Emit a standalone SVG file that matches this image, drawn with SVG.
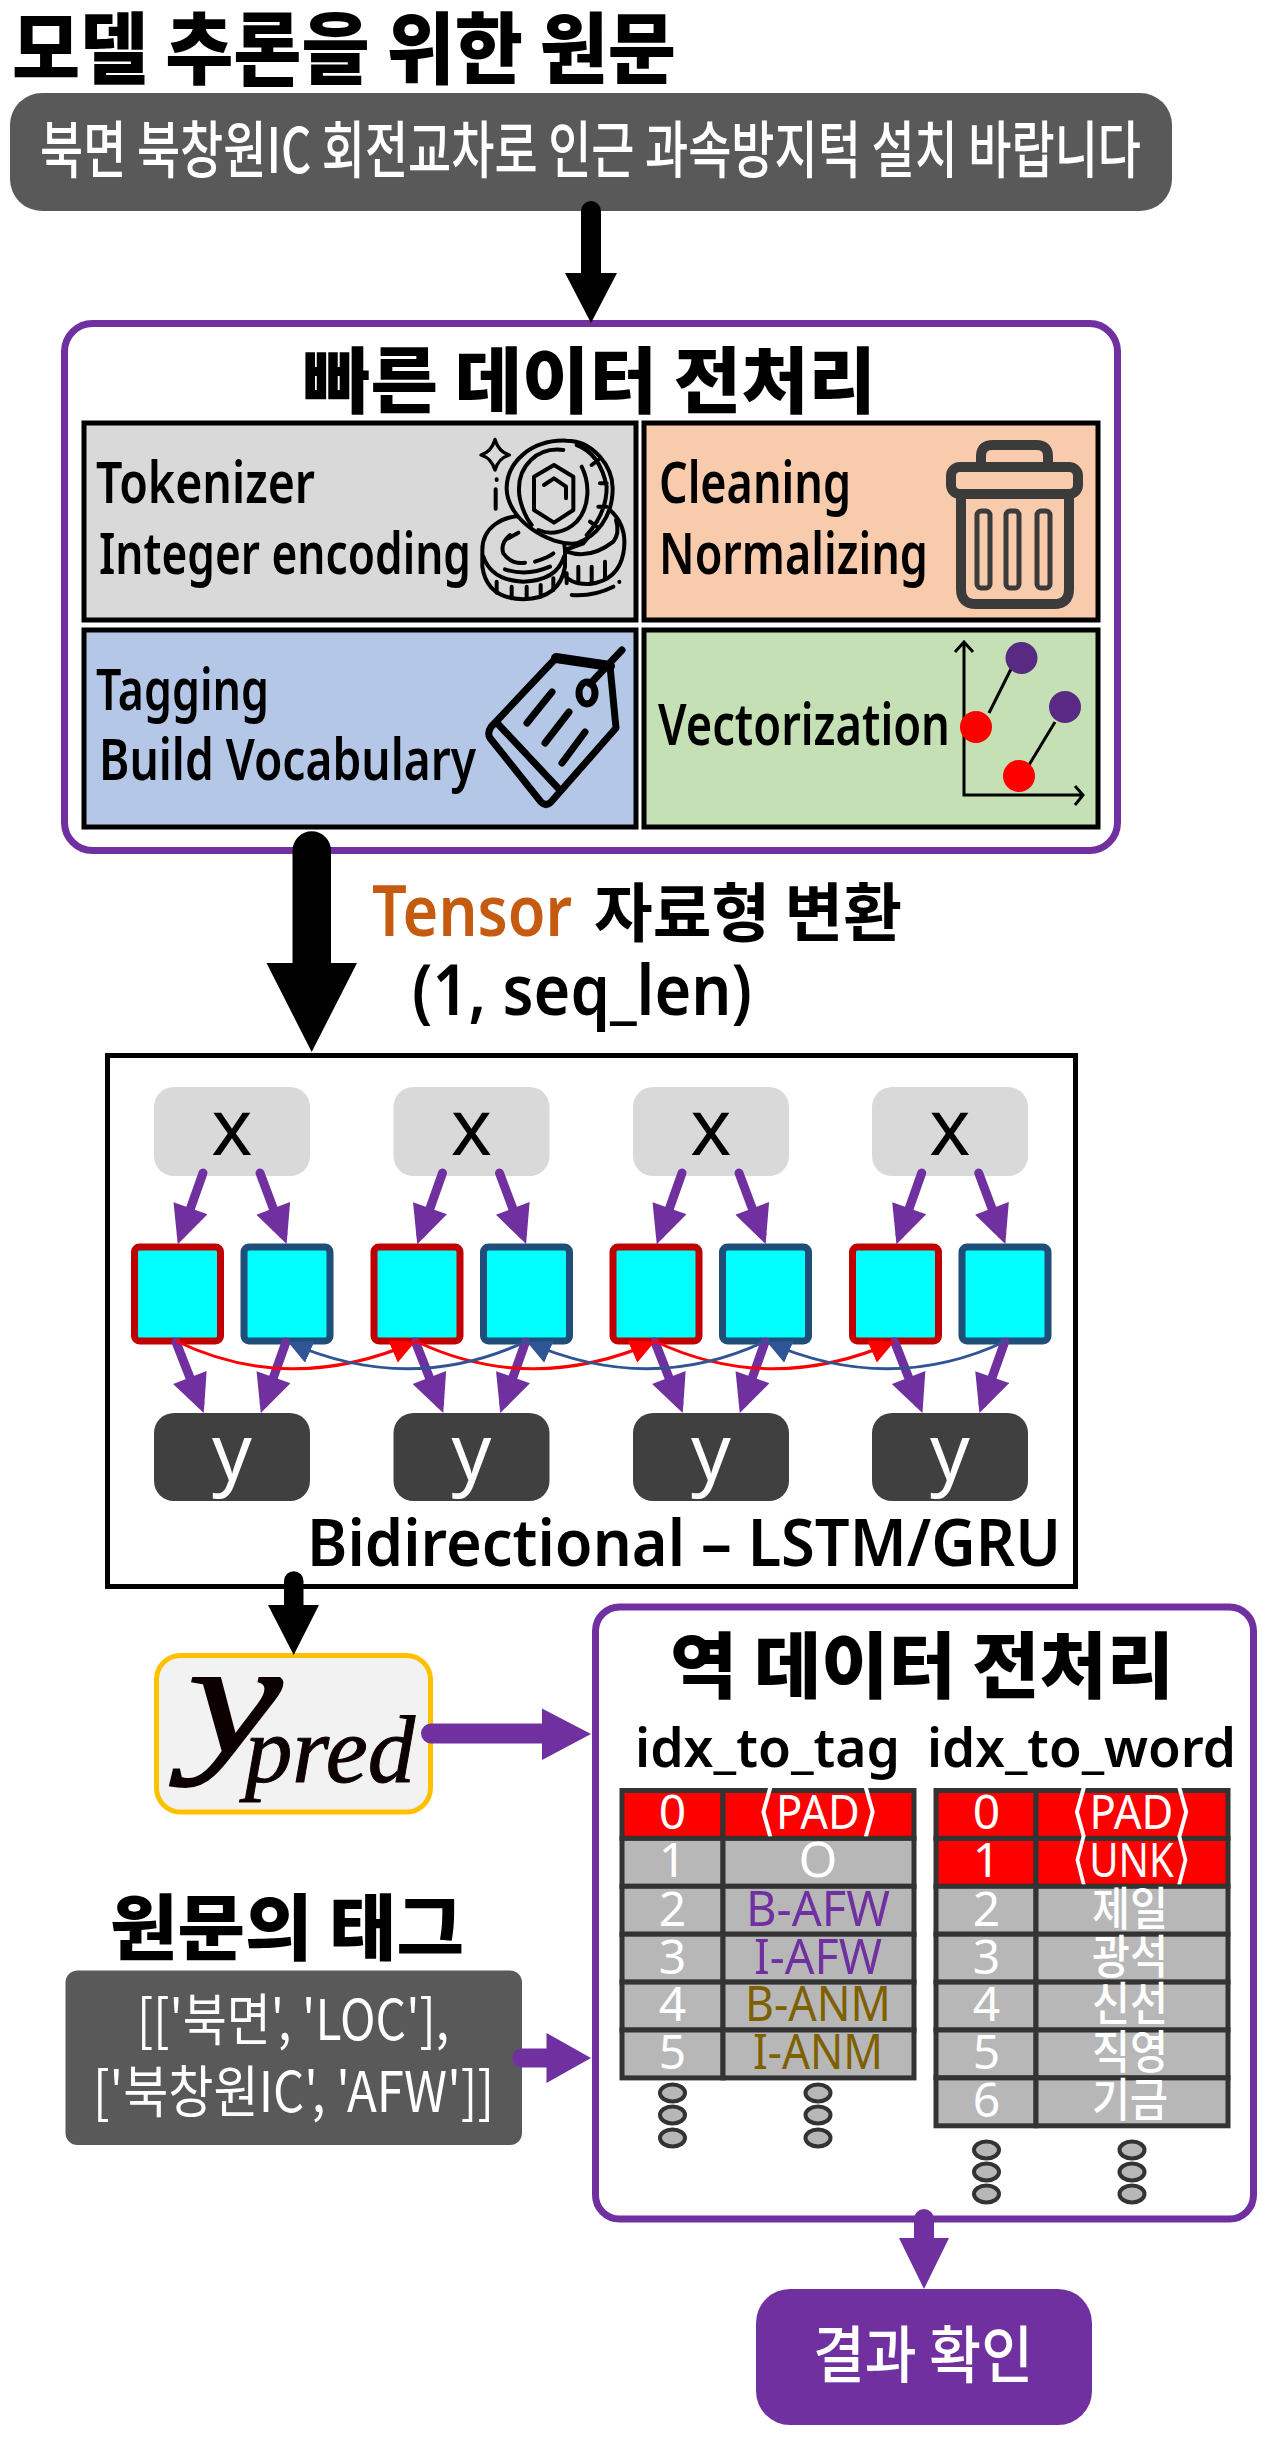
<svg xmlns="http://www.w3.org/2000/svg" width="1269" height="2442" viewBox="0 0 1269 2442">
<style>
text{font-family:"Noto Sans CJK KR","Noto Sans",sans-serif}
.lat{font-family:"Noto Sans","DejaVu Sans","Noto Sans CJK KR",sans-serif;font-weight:600}
.lbl{font-family:"Noto Sans",sans-serif;font-weight:400;font-size:78px;text-anchor:middle}
.h{font-weight:900;fill:#000}
.w{fill:#fff;font-weight:500}
.purple{fill:none;stroke:#7030A0;stroke-width:7}
.grid{stroke:#000;stroke-width:5}
.xb{fill:#D9D9D9}
.yb{fill:#404040}
.rc{fill:#00FFFF;stroke:#C00000;stroke-width:7}
.bc{fill:#00FFFF;stroke:#1F4E79;stroke-width:7}
.tc{fill:#B7B7B7;stroke:#333;stroke-width:5}
.tr{fill:#FF0000;stroke:#333;stroke-width:5}
.dot{fill:#B7B7B7;stroke:#333;stroke-width:4}
.td{font-size:48px;font-family:"Noto Sans","DejaVu Sans","Noto Sans CJK KR",sans-serif;text-anchor:middle;fill:#fff}
.tk{font-size:46px;text-anchor:middle;fill:#fff;font-weight:500}
.br{font-size:54px}
.ar{fill:none;stroke:#7030A0;stroke-width:9;stroke-linecap:round;marker-end:url(#ph)}
.ic{fill:none;stroke:#000;stroke-width:12;stroke-linecap:round;stroke-linejoin:round}
</style>
<defs>
<marker id="ph" markerUnits="userSpaceOnUse" markerWidth="40" markerHeight="36" viewBox="0 0 36 34" refX="26" refY="17" orient="auto"><polygon points="0,0 36,17 0,34" fill="#7030A0"/></marker>
<marker id="rh" markerUnits="userSpaceOnUse" markerWidth="24" markerHeight="24" viewBox="0 0 22 22" refX="22" refY="11" orient="auto"><polygon points="0,0 22,11 0,22" fill="#FF0000"/></marker>
<marker id="bh" markerUnits="userSpaceOnUse" markerWidth="24" markerHeight="24" viewBox="0 0 22 22" refX="22" refY="11" orient="auto"><polygon points="0,0 22,11 0,22" fill="#2F5597"/></marker>
<g id="fan">
<line class="ar" x1="203" y1="1173" x2="181.3" y2="1234.2"/>
<line class="ar" x1="260" y1="1173" x2="282.9" y2="1234.2"/>
<line class="ar" x1="176" y1="1342" x2="199.9" y2="1403.2"/>
<line class="ar" x1="286" y1="1342" x2="264.3" y2="1403.1"/>
</g>
</defs>
<rect width="1269" height="2442" fill="#fff"/>

<text id="title" class="h" x="12" y="78" font-size="78" textLength="664" lengthAdjust="spacingAndGlyphs">모델 추론을 위한 원문</text>

<g id="source">
<rect x="10" y="93" width="1162" height="118" rx="32" fill="#595959"/>
<text class="w" x="40" y="173" font-size="62" textLength="1101" lengthAdjust="spacingAndGlyphs">북면 북창원IC 회전교차로 인근 과속방지턱 설치 바랍니다</text>
</g>

<g id="preprocess">
<rect class="purple" x="64.5" y="323.5" width="1053" height="527" rx="28" fill="#fff"/>
<text class="h" x="303" y="407" font-size="72" textLength="573" lengthAdjust="spacingAndGlyphs">빠른 데이터 전처리</text>
</g>

<g id="tokenizer">
<rect class="grid" x="84" y="423" width="552" height="197" fill="#D9D9D9"/>
<text class="lat" x="96" y="503" font-size="58" textLength="219" lengthAdjust="spacingAndGlyphs">Tokenizer</text>
<text class="lat" x="99" y="574" font-size="58" textLength="372" lengthAdjust="spacingAndGlyphs">Integer encoding</text>
<g transform="translate(450,410) scale(.33333)">
<path class="ic" style="fill:#D9D9D9" d="M480,300Q535,350 520,430Q505,510 420,522Q360,525 340,490L345,420L400,400Z"/>
<path class="ic" d="M350,425Q420,450 490,395Q510,370 498,330M350,490V520M385,470V520M425,470V518M465,455V505"/>
<path class="ic" style="fill:#D9D9D9" d="M97,420C97,350 160,318 215,318C290,318 345,370 345,420V470Q330,565 220,568Q110,565 97,470Z"/>
<path class="ic" d="M100,440Q125,512 220,515Q320,512 342,440M140,515V548M185,530V565M230,530V565M272,525V560M310,505V540M180,375Q150,400 160,430Q185,465 225,458M255,455Q300,440 310,430M165,478Q230,500 300,470M175,385L205,368"/>
<path class="ic" style="fill:#D9D9D9" d="M350,92C430,92 488,170 488,235C488,320 440,380 380,400C300,410 170,330 170,235C170,160 240,88 350,92Z"/>
<path class="ic" d="M380,105Q450,130 470,230Q470,310 410,375M445,150L425,165M470,220H450M470,290H445M440,350L420,335"/>
<path class="ic" d="M340,120C260,110 205,170 207,240C207,275 225,320 245,345M395,170C420,220 420,290 380,335C345,370 300,375 265,360"/>
<path class="ic" d="M312,165L370,200V300L312,338L252,300V200ZM282,225L312,205L348,230V265"/>
<path d="M135,88Q145,125 178,135Q145,145 135,180Q125,145 93,135Q125,125 135,88Z" fill="none" stroke="#000" stroke-width="10" stroke-linejoin="round"/>
<path class="ic" d="M140,208V210M137,238V296M365,555Q430,560 490,530M508,515V516"/>
</g>
</g>

<g id="cleaning">
<rect class="grid" x="644" y="423" width="454" height="197" fill="#F8CBAD"/>
<text class="lat" x="659" y="503" font-size="58" textLength="192" lengthAdjust="spacingAndGlyphs">Cleaning</text>
<text class="lat" x="659" y="574" font-size="58" textLength="269" lengthAdjust="spacingAndGlyphs">Normalizing</text>
<g fill="none" stroke="#3B3B3B" stroke-linejoin="round">
<path d="M981,464V456Q981,445 993,445H1036Q1048,445 1048,456V464" stroke-width="10"/>
<rect x="951" y="467" width="127" height="27" rx="9" stroke-width="10"/>
<path d="M961,497V589Q961,604 976,604H1054Q1069,604 1069,589V497" stroke-width="10"/>
<rect x="977" y="511" width="13" height="77" rx="4" stroke-width="5"/>
<rect x="1006" y="511" width="13" height="77" rx="4" stroke-width="5"/>
<rect x="1037" y="511" width="13" height="77" rx="4" stroke-width="5"/>
</g>
</g>

<g id="tagging">
<rect class="grid" x="84" y="630" width="552" height="197" fill="#B4C7E7"/>
<text class="lat" x="96" y="710" font-size="58" textLength="173" lengthAdjust="spacingAndGlyphs">Tagging</text>
<text class="lat" x="99" y="780" font-size="58" textLength="377" lengthAdjust="spacingAndGlyphs">Build Vocabulary</text>
<g fill="none" stroke="#000" stroke-width="7" stroke-linecap="round" stroke-linejoin="round">
<path d="M556,658L610,666L616,728L551,802Q546,807 541,802L490,738Q487,733 491,727Z"/>
<path d="M556,658L610,666" stroke-width="10"/>
<path d="M498,724L558,788"/>
<ellipse cx="587" cy="693" rx="8" ry="11"/>
<path d="M590,684L622,650"/>
<path d="M552,692L527,723M569,712L545,743M585,732L562,763"/>
</g>
</g>

<g id="vectorization">
<rect class="grid" x="644" y="630" width="454" height="197" fill="#C5E0B4"/>
<text class="lat" x="658" y="745" font-size="58" textLength="292" lengthAdjust="spacingAndGlyphs">Vectorization</text>
<g fill="none" stroke="#000" stroke-width="3">
<path d="M964,642V795H1083M955,652L964,642L973,652M1075,786L1083,795L1075,805"/>
<path d="M989,713L1012,667M1029,765L1055,722"/>
</g>
<circle cx="1021.5" cy="658" r="16" fill="#582A83"/>
<circle cx="1065" cy="707" r="16" fill="#582A83"/>
<circle cx="976" cy="727" r="16" fill="#FF0000"/>
<circle cx="1019" cy="776" r="16" fill="#FF0000"/>
</g>

<text id="tensor-label" class="lat" x="372" y="936" font-size="70" fill="#C55A11" textLength="200" lengthAdjust="spacingAndGlyphs">Tensor</text>
<text id="tensor-label-2" class="h" x="594" y="936" font-size="64" textLength="308" lengthAdjust="spacingAndGlyphs" style="font-weight:700">자료형 변환</text>
<text id="tensor-shape" class="lat" x="412" y="1015" font-size="70" textLength="340" lengthAdjust="spacingAndGlyphs">(1, seq_len)</text>

<g id="lstm">
<rect x="107.5" y="1055.5" width="968" height="531" fill="#fff" stroke="#000" stroke-width="5"/>
<text class="lat" x="307" y="1566" font-size="65" textLength="754" lengthAdjust="spacingAndGlyphs">Bidirectional – LSTM/GRU</text>
</g>
<g id="x1"><rect class="xb" x="154" y="1087" width="156" height="89" rx="20"/><text class="lbl" x="232" y="1155">x</text></g>
<g id="x2"><rect class="xb" x="393.5" y="1087" width="156" height="89" rx="20"/><text class="lbl" x="471.5" y="1155">x</text></g>
<g id="x3"><rect class="xb" x="633" y="1087" width="156" height="89" rx="20"/><text class="lbl" x="711" y="1155">x</text></g>
<g id="x4"><rect class="xb" x="872" y="1087" width="156" height="89" rx="20"/><text class="lbl" x="950" y="1155">x</text></g>
<g id="cell1f"><rect class="rc" x="134.5" y="1247" width="86" height="94" rx="5"/></g>
<g id="cell1b"><rect class="bc" x="244" y="1247" width="86" height="94" rx="5"/></g>
<g id="cell2f"><rect class="rc" x="374" y="1247" width="86" height="94" rx="5"/></g>
<g id="cell2b"><rect class="bc" x="483.5" y="1247" width="86" height="94" rx="5"/></g>
<g id="cell3f"><rect class="rc" x="613" y="1247" width="86" height="94" rx="5"/></g>
<g id="cell3b"><rect class="bc" x="722.5" y="1247" width="86" height="94" rx="5"/></g>
<g id="cell4f"><rect class="rc" x="852.5" y="1247" width="86" height="94" rx="5"/></g>
<g id="cell4b"><rect class="bc" x="962" y="1247" width="86" height="94" rx="5"/></g>
<g id="y1"><rect class="yb" x="154" y="1413" width="156" height="88" rx="20"/><text class="lbl" fill="#fff" x="232" y="1480">y</text></g>
<g id="y2"><rect class="yb" x="393.5" y="1413" width="156" height="88" rx="20"/><text class="lbl" fill="#fff" x="471.5" y="1480">y</text></g>
<g id="y3"><rect class="yb" x="633" y="1413" width="156" height="88" rx="20"/><text class="lbl" fill="#fff" x="711" y="1480">y</text></g>
<g id="y4"><rect class="yb" x="872" y="1413" width="156" height="88" rx="20"/><text class="lbl" fill="#fff" x="950" y="1480">y</text></g>

<g id="ypred">
<rect x="156.5" y="1655.5" width="274" height="156.5" rx="24" fill="#F2F2F2" stroke="#FFC000" stroke-width="5"/>
<text x="188" y="1753" font-size="160" font-style="italic" fill="#0D0000" style="font-family:'Liberation Serif',serif" stroke="#0D0000" stroke-width="2" textLength="94" lengthAdjust="spacingAndGlyphs">y</text>
<text x="245" y="1782" font-size="96" font-style="italic" fill="#0D0000" style="font-family:'Liberation Serif',serif" stroke="#0D0000" stroke-width="1" textLength="170" lengthAdjust="spacingAndGlyphs">pred</text>
</g>

<text id="tag-title" class="h" x="110" y="1954" font-size="72" textLength="354" lengthAdjust="spacingAndGlyphs">원문의 태그</text>
<g id="tags">
<rect x="65.5" y="1970.5" width="456.5" height="174.5" rx="12" fill="#595959"/>
<text class="w" x="137" y="2040" font-size="56" textLength="312" lengthAdjust="spacingAndGlyphs" style="font-weight:400">[['북면', 'LOC'],</text>
<text class="w" x="93" y="2112" font-size="56" textLength="401" lengthAdjust="spacingAndGlyphs" style="font-weight:400">['북창원IC', 'AFW']]</text>
</g>

<g id="postprocess">
<rect class="purple" x="595.5" y="1607" width="658" height="612" rx="24" fill="#fff"/>
<text class="h" x="670" y="1692" font-size="72" textLength="504" lengthAdjust="spacingAndGlyphs">역 데이터 전처리</text>
<text class="lat" x="635" y="1767" font-size="55" textLength="265" lengthAdjust="spacingAndGlyphs">idx_to_tag</text>
<text class="lat" x="927" y="1767" font-size="55" textLength="309" lengthAdjust="spacingAndGlyphs">idx_to_word</text>
</g>

<g id="idx-to-tag">
<rect class="tr" x="622" y="1790.5" width="101" height="47.9"/><rect class="tr" x="723" y="1790.5" width="191" height="47.9"/>
<rect class="tc" x="622" y="1838.4" width="101" height="47.9"/><rect class="tc" x="723" y="1838.4" width="191" height="47.9"/>
<rect class="tc" x="622" y="1886.3" width="101" height="47.9"/><rect class="tc" x="723" y="1886.3" width="191" height="47.9"/>
<rect class="tc" x="622" y="1934.2" width="101" height="47.9"/><rect class="tc" x="723" y="1934.2" width="191" height="47.9"/>
<rect class="tc" x="622" y="1982.1" width="101" height="47.9"/><rect class="tc" x="723" y="1982.1" width="191" height="47.9"/>
<rect class="tc" x="622" y="2030" width="101" height="47.9"/><rect class="tc" x="723" y="2030" width="191" height="47.9"/>
<text class="td" x="672.5" y="1829">0</text><text class="td" x="818" y="1829" textLength="122" lengthAdjust="spacingAndGlyphs"><tspan class="br">⟨</tspan>PAD<tspan class="br">⟩</tspan></text>
<text class="td" x="672.5" y="1877">1</text><text class="td" x="818" y="1877" style="font-size:50px">O</text>
<text class="td" x="672.5" y="1925.5">2</text><text class="td" style="fill:#7030A0;font-size:50px" x="818" y="1925.5" textLength="144" lengthAdjust="spacingAndGlyphs">B-AFW</text>
<text class="td" x="672.5" y="1973.5">3</text><text class="td" style="fill:#7030A0;font-size:50px" x="818" y="1973.5" textLength="128" lengthAdjust="spacingAndGlyphs">I-AFW</text>
<text class="td" x="672.5" y="2021">4</text><text class="td" style="fill:#7F6000;font-size:50px" x="818" y="2021" textLength="146" lengthAdjust="spacingAndGlyphs">B-ANM</text>
<text class="td" x="672.5" y="2069">5</text><text class="td" style="fill:#7F6000;font-size:50px" x="818" y="2069" textLength="130" lengthAdjust="spacingAndGlyphs">I-ANM</text>
<ellipse class="dot" cx="672.5" cy="2093" rx="12.5" ry="8.5"/><ellipse class="dot" cx="672.5" cy="2115" rx="12.5" ry="8.5"/><ellipse class="dot" cx="672.5" cy="2138" rx="12.5" ry="8.5"/>
<ellipse class="dot" cx="818" cy="2093" rx="12.5" ry="8.5"/><ellipse class="dot" cx="818" cy="2115" rx="12.5" ry="8.5"/><ellipse class="dot" cx="818" cy="2138" rx="12.5" ry="8.5"/>
</g>

<g id="idx-to-word">
<rect class="tr" x="936" y="1790.5" width="100" height="47.9"/><rect class="tr" x="1036" y="1790.5" width="192" height="47.9"/>
<rect class="tr" x="936" y="1838.4" width="100" height="47.9"/><rect class="tr" x="1036" y="1838.4" width="192" height="47.9"/>
<rect class="tc" x="936" y="1886.3" width="100" height="47.9"/><rect class="tc" x="1036" y="1886.3" width="192" height="47.9"/>
<rect class="tc" x="936" y="1934.2" width="100" height="47.9"/><rect class="tc" x="1036" y="1934.2" width="192" height="47.9"/>
<rect class="tc" x="936" y="1982.1" width="100" height="47.9"/><rect class="tc" x="1036" y="1982.1" width="192" height="47.9"/>
<rect class="tc" x="936" y="2030" width="100" height="47.9"/><rect class="tc" x="1036" y="2030" width="192" height="47.9"/>
<rect class="tc" x="936" y="2077.9" width="100" height="47.9"/><rect class="tc" x="1036" y="2077.9" width="192" height="47.9"/>
<text class="td" x="986.5" y="1829">0</text><text class="td" x="1131.5" y="1829" textLength="122" lengthAdjust="spacingAndGlyphs"><tspan class="br">⟨</tspan>PAD<tspan class="br">⟩</tspan></text>
<text class="td" x="986.5" y="1877">1</text><text class="td" x="1131.5" y="1877" textLength="120" lengthAdjust="spacingAndGlyphs"><tspan class="br">⟨</tspan>UNK<tspan class="br">⟩</tspan></text>
<text class="td" x="986.5" y="1925.5">2</text><text class="tk" x="1130" y="1925" textLength="76" lengthAdjust="spacingAndGlyphs">제일</text>
<text class="td" x="986.5" y="1973.5">3</text><text class="tk" x="1130" y="1973" textLength="76" lengthAdjust="spacingAndGlyphs">광석</text>
<text class="td" x="986.5" y="2021">4</text><text class="tk" x="1130" y="2020" textLength="76" lengthAdjust="spacingAndGlyphs">신선</text>
<text class="td" x="986.5" y="2069">5</text><text class="tk" x="1130" y="2068" textLength="76" lengthAdjust="spacingAndGlyphs">직영</text>
<text class="td" x="986.5" y="2117">6</text><text class="tk" x="1130" y="2116" textLength="76" lengthAdjust="spacingAndGlyphs">기금</text>
<ellipse class="dot" cx="986.5" cy="2150" rx="12.5" ry="8.5"/><ellipse class="dot" cx="986.5" cy="2172" rx="12.5" ry="8.5"/><ellipse class="dot" cx="986.5" cy="2194" rx="12.5" ry="8.5"/>
<ellipse class="dot" cx="1132" cy="2150" rx="12.5" ry="8.5"/><ellipse class="dot" cx="1132" cy="2172" rx="12.5" ry="8.5"/><ellipse class="dot" cx="1132" cy="2194" rx="12.5" ry="8.5"/>
</g>

<g id="result">
<rect x="756" y="2289" width="336" height="136" rx="34" fill="#7030A0"/>
<text class="w" x="813" y="2378" font-size="62" textLength="220" lengthAdjust="spacingAndGlyphs">결과 확인</text>
</g>

<g id="connectors">
<path fill="#000" d="M581,211A10,10 0 0 1 601,211V273H617L591,323L565,273H581Z"/>
<path fill="#000" d="M292.5,850.5A19.25,19.25 0 0 1 331,850.5V963H357L311.7,1052L266.5,963H292.5Z"/>
<path fill="#000" d="M284,1581A9.75,9.75 0 0 1 303.5,1581V1605H319L293.7,1655L268,1605H284Z"/>
<path fill="#7030A0" d="M431,1723.5A10,10 0 0 0 431,1743.5H542V1760L591,1734L542,1708.5V1723.5Z"/>
<path fill="#7030A0" d="M522,2048.5A9.5,9.5 0 0 0 522,2067.5H546.5V2083L591,2058L546.5,2033V2048.5Z"/>
<path fill="#7030A0" d="M914,2219A10,10 0 0 1 934,2219V2238H949L924,2289L899,2238H914Z"/>
<use href="#fan"/>
<use href="#fan" x="239.5"/>
<use href="#fan" x="479"/>
<use href="#fan" x="718.7"/>
<g fill="none" stroke-width="3">
<path stroke="#FF0000" marker-end="url(#rh)" d="M176,1341Q290,1396 415,1342"/>
<path stroke="#FF0000" marker-end="url(#rh)" d="M415.5,1341Q530,1396 654.5,1342"/>
<path stroke="#FF0000" marker-end="url(#rh)" d="M654.5,1341Q770,1396 894,1342"/>
<path stroke="#2F5597" marker-end="url(#bh)" d="M527,1341Q410,1396 288,1342"/>
<path stroke="#2F5597" marker-end="url(#bh)" d="M766,1341Q650,1396 527,1342"/>
<path stroke="#2F5597" marker-end="url(#bh)" d="M1006,1341Q890,1396 767,1342"/>
</g>
</g>
</svg>
